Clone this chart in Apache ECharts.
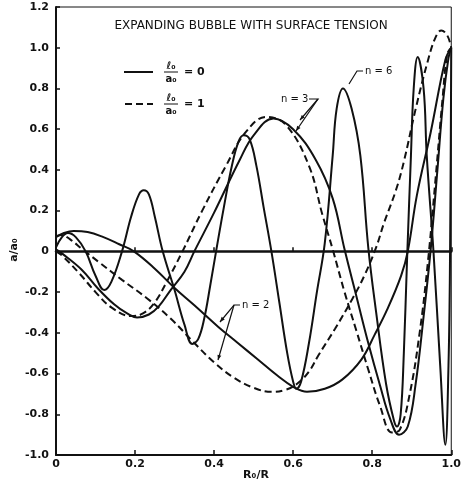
<!DOCTYPE html>
<html>
<head>
<meta charset="utf-8">
<script src="https://cdn.jsdelivr.net/npm/echarts@6/dist/echarts.min.js"></script>
<style>
html, body { margin: 0; padding: 0; background: #fff; }
#chart { width: 464px; height: 482px; }
</style>
</head>
<body>
<div id="chart"></div>
<script>
// a/a0 against R0/R
var n2Solid = [
  [0, 0.07], [0.02, 0.09], [0.045, 0.1], [0.08, 0.095], [0.12, 0.07], [0.16, 0.035],
  [0.197, 0], [0.25, -0.085], [0.3, -0.18], [0.35, -0.265], [0.41, -0.37], [0.46, -0.45],
  [0.51, -0.53], [0.56, -0.61], [0.6, -0.665], [0.635, -0.69], [0.68, -0.675], [0.724, -0.63],
  [0.773, -0.53], [0.806, -0.41], [0.838, -0.285], [0.873, -0.12], [0.89, 0],
  [0.913, 0.275], [0.948, 0.585], [0.985, 0.94], [1, 1]
];
var n2Dashed = [
  [0, 0.075], [0.015, 0.08], [0.035, 0.06], [0.067, 0.01], [0.11, -0.055], [0.167, -0.14],
  [0.23, -0.23], [0.29, -0.33], [0.345, -0.44], [0.4, -0.545], [0.45, -0.62], [0.5, -0.67],
  [0.545, -0.69], [0.58, -0.68], [0.61, -0.65], [0.64, -0.59], [0.664, -0.51], [0.706, -0.38],
  [0.749, -0.236], [0.78, -0.12], [0.81, 0.02], [0.83, 0.14], [0.86, 0.3], [0.88, 0.44],
  [0.91, 0.7], [0.94, 0.93], [0.96, 1.05], [0.975, 1.085], [0.99, 1.06], [1, 1]
];
var n3Solid = [
  [0, 0.01], [0.015, -0.01], [0.065, -0.09], [0.105, -0.18], [0.147, -0.26], [0.18, -0.305],
  [0.205, -0.325], [0.235, -0.31], [0.26, -0.27], [0.29, -0.19], [0.325, -0.1], [0.35, 0],
  [0.4, 0.19], [0.465, 0.45], [0.5, 0.57], [0.55, 0.653], [0.6, 0.6], [0.657, 0.45],
  [0.7, 0.26], [0.73, 0.01], [0.76, -0.22], [0.79, -0.45], [0.82, -0.66], [0.845, -0.82],
  [0.868, -0.9], [0.89, -0.86], [0.91, -0.65], [0.93, -0.32], [0.948, 0.01], [0.965, 0.4],
  [0.98, 0.75], [0.993, 0.95], [1, 1]
];
var n3Dashed = [
  [0, 0], [0.015, -0.02], [0.06, -0.11], [0.1, -0.2], [0.14, -0.275], [0.19, -0.318],
  [0.22, -0.305], [0.25, -0.25], [0.28, -0.15], [0.32, 0], [0.37, 0.2], [0.43, 0.42],
  [0.48, 0.585], [0.532, 0.66], [0.582, 0.62], [0.64, 0.42], [0.674, 0.18], [0.7, 0.01],
  [0.73, -0.2], [0.76, -0.39], [0.79, -0.58], [0.82, -0.76], [0.85, -0.89], [0.87, -0.875],
  [0.895, -0.7], [0.92, -0.4], [0.94, -0.07], [0.96, 0.35], [0.978, 0.75], [0.99, 0.97], [1, 1]
];
var n6Solid = [
  [0, 0.02], [0.015, 0.07], [0.03, 0.09], [0.05, 0.07], [0.075, 0], [0.1, -0.12], [0.122, -0.19],
  [0.14, -0.15], [0.167, 0], [0.19, 0.17], [0.21, 0.28], [0.222, 0.3], [0.235, 0.28], [0.25, 0.17],
  [0.27, 0], [0.3, -0.19], [0.325, -0.36], [0.345, -0.455], [0.36, -0.43], [0.375, -0.33],
  [0.39, -0.17], [0.405, 0], [0.425, 0.22], [0.445, 0.42], [0.462, 0.54], [0.475, 0.57],
  [0.49, 0.55], [0.507, 0.42], [0.525, 0.22], [0.545, 0], [0.565, -0.25], [0.585, -0.5],
  [0.6, -0.64], [0.608, -0.675], [0.62, -0.64], [0.64, -0.45], [0.66, -0.2], [0.68, 0.04],
  [0.7, 0.47], [0.71, 0.7], [0.726, 0.8], [0.748, 0.7], [0.77, 0.47], [0.79, 0.02],
  [0.81, -0.3], [0.835, -0.65], [0.855, -0.83], [0.863, -0.86], [0.872, -0.8], [0.88, -0.5],
  [0.888, -0.05], [0.898, 0.47], [0.905, 0.8], [0.915, 0.955], [0.93, 0.8], [0.938, 0.47],
  [0.955, 0], [0.972, -0.56], [0.985, -0.95], [0.993, -0.56], [0.997, 0], [1, 1]
];
var xTicks = [0, 0.2, 0.4, 0.6, 0.8, 1.0];
var yTicks = [-1.0, -0.8, -0.6, -0.4, -0.2, 0, 0.2, 0.4, 0.6, 0.8, 1.0, 1.2];

var ink = '#111';
var font = 'DejaVu Sans';

function curve(name, data, dashed) {
  return {
    name: name,
    type: 'line',
    xAxisIndex: 0,
    data: data,
    symbol: 'none',
    smooth: 0.4,
    lineStyle: { color: ink, width: 2, type: dashed ? [7, 4] : 'solid' }
  };
}

// little arrow tip for the n labels
function tip(x1, y1, x2, y2) {
  var dx = x2 - x1, dy = y2 - y1;
  var len = Math.sqrt(dx * dx + dy * dy);
  var ux = dx / len, uy = dy / len;
  var bx = x2 - ux * 5, by = y2 - uy * 5;
  return {
    type: 'polygon',
    shape: { points: [[x2, y2], [bx - uy * 2, by + ux * 2], [bx + uy * 2, by - ux * 2]] },
    style: { fill: ink }
  };
}
function leader(points) {
  return { type: 'polyline', shape: { points: points }, style: { stroke: ink, lineWidth: 1.2, fill: null } };
}
function txt(x, y, s, size, weight, align) {
  return {
    type: 'text', x: x, y: y,
    style: { text: s, fill: ink, font: (weight || 'normal') + ' ' + size + 'px "' + font + '"', align: align || 'left', verticalAlign: 'middle' }
  };
}

var chart = echarts.init(document.getElementById('chart'));
chart.setOption({
  animation: false,
  grid: { left: 56, right: 6, top: 7, bottom: 27, show: true, borderColor: ink, borderWidth: 1 },
  xAxis: [{
    type: 'value', min: xTicks[0], max: xTicks[xTicks.length - 1], interval: 0.2, position: 'bottom',
    axisLine: { onZero: false, lineStyle: { color: ink, width: 2 } },
    axisTick: { inside: true, length: 5, lineStyle: { color: ink, width: 1.5 } },
    splitLine: { show: false },
    axisLabel: { color: ink, fontFamily: font, fontWeight: 'bold', fontSize: 11, margin: 4,
      formatter: function (v) { return v === 0 ? '0' : v.toFixed(1); } }
  }, {
    // the heavy zero line across the plot
    type: 'value', min: 0, max: 1, interval: 0.2, position: 'bottom',
    axisLine: { onZero: true, lineStyle: { color: ink, width: 2.5 } },
    axisTick: { inside: true, length: 4, lineStyle: { color: ink, width: 1.5 } },
    axisLabel: { show: false },
    splitLine: { show: false }
  }],
  yAxis: {
    type: 'value', min: yTicks[0], max: yTicks[yTicks.length - 1], interval: 0.2,
    axisLine: { onZero: false, lineStyle: { color: ink, width: 2 } },
    axisTick: { inside: true, length: 4, lineStyle: { color: ink, width: 1.5 } },
    splitLine: { show: false },
    axisLabel: { color: ink, fontFamily: font, fontWeight: 'bold', fontSize: 11, margin: 7,
      formatter: function (v) { return Math.abs(v) < 1e-9 ? '0' : v.toFixed(1); } }
  },
  series: [
    curve('n=2, l0/a0=0', n2Solid, false),
    curve('n=2, l0/a0=1', n2Dashed, true),
    curve('n=3, l0/a0=0', n3Solid, false),
    curve('n=3, l0/a0=1', n3Dashed, true),
    curve('n=6, l0/a0=0', n6Solid, false)
  ],
  graphic: [
    txt(251, 26, 'EXPANDING BUBBLE WITH SURFACE TENSION', 12, 'normal', 'center'),
    // key
    { type: 'line', shape: { x1: 124, y1: 72, x2: 153, y2: 72 }, style: { stroke: ink, lineWidth: 2 } },
    txt(171, 66, 'ℓ₀', 10, 'bold', 'center'),
    { type: 'line', shape: { x1: 164, y1: 72, x2: 178, y2: 72 }, style: { stroke: ink, lineWidth: 1 } },
    txt(171, 79, 'a₀', 10, 'bold', 'center'),
    txt(184, 72, '= 0', 11, 'bold', 'left'),
    { type: 'line', shape: { x1: 125, y1: 104, x2: 153, y2: 104 }, style: { stroke: ink, lineWidth: 2, lineDash: [7, 4] } },
    txt(171, 98, 'ℓ₀', 10, 'bold', 'center'),
    { type: 'line', shape: { x1: 164, y1: 104, x2: 178, y2: 104 }, style: { stroke: ink, lineWidth: 1 } },
    txt(171, 111, 'a₀', 10, 'bold', 'center'),
    txt(184, 104, '= 1', 11, 'bold', 'left'),
    // n labels
    txt(365, 71, 'n = 6', 10, 'normal', 'left'),
    leader([[363, 71], [357, 71], [349, 84]]),
    txt(281, 99, 'n = 3', 10, 'normal', 'left'),
    leader([[309, 99], [318, 99], [300, 120]]), tip(318, 99, 300, 120),
    leader([[318, 99], [296, 131]]), tip(318, 99, 296, 131),
    txt(242, 305, 'n = 2', 10, 'normal', 'left'),
    leader([[240, 305], [234, 305], [220, 322]]), tip(234, 305, 220, 322),
    leader([[234, 305], [218, 360]]), tip(234, 305, 218, 360),
    // axis names
    { type: 'text', x: 14, y: 250, rotation: Math.PI / 2,
      style: { text: 'a/a₀', fill: ink, font: 'bold 11px "' + font + '"', align: 'center', verticalAlign: 'middle' } },
    txt(256, 475, 'R₀/R', 11, 'bold', 'center')
  ]
});
</script>
</body>
</html>
